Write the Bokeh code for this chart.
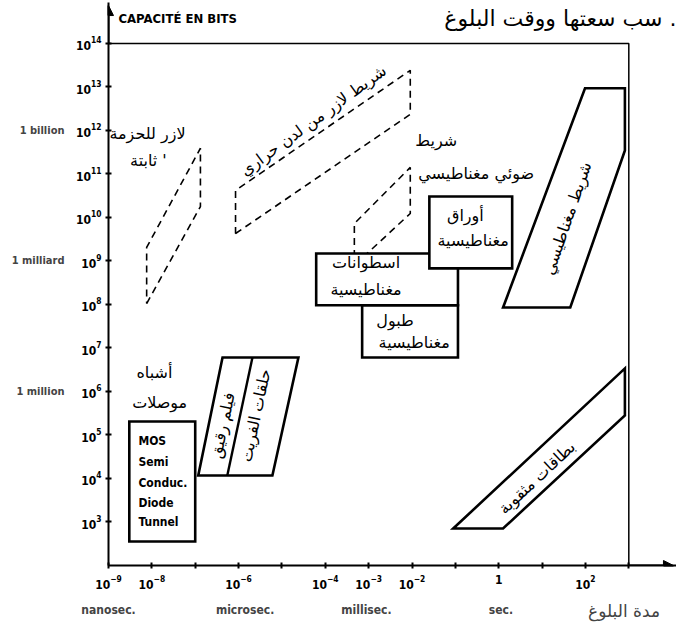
from bokeh.plotting import figure
from bokeh.models import (Range1d, FixedTicker, LogAxis, Arrow, NormalHead, ColumnDataSource,
                          LogTickFormatter)
from bokeh.core.properties import value
from bokeh.embed import file_html
from bokeh.resources import INLINE

LATIN = "'DejaVu Sans Condensed', Roboto, 'Liberation Sans', sans-serif"
ARABIC = "DejaVu Sans"

# ---------------- data (log10 of access time in s, log10 of capacity in bits) ----------
# solid-outlined technologies
semi_t = [-8.52, -7.00, -7.00, -8.52]
semi_c = [2.55, 2.55, 5.31, 5.31]
film_core_t = [-6.93, -5.22, -4.62, -6.37]
film_core_c = [4.07, 4.07, 6.78, 6.78]
film_core_div_t = [-6.26, -5.68]
film_core_div_c = [4.07, 6.78]
drums_t = [-3.15, -0.94, -0.94, -3.15]
drums_c = [6.78, 6.78, 7.98, 7.98]
discs_t = [-4.21, -0.94, -0.94, -4.21]
discs_c = [7.98, 7.98, 9.17, 9.17]
sheets_t = [-1.60, 0.31, 0.31, -1.60]
sheets_c = [8.83, 8.83, 10.48, 10.48]
tape_t = [0.10, 1.65, 2.91, 2.91, 1.99]
tape_c = [7.93, 7.93, 11.54, 12.97, 12.97]
cards_t = [-1.05, 0.10, 2.91, 2.91]
cards_c = [2.85, 2.85, 5.45, 6.53]

# dashed (future) technologies
holo_t = [-8.12, -6.88, -6.88, -8.12]
holo_c = [8.02, 10.25, 11.59, 9.31]
thermo_t = [-6.07, -2.04, -2.04, -6.07]
thermo_c = [9.63, 12.37, 13.38, 10.62]
mo_t = [-3.33, -2.04, -2.04, -3.33]
mo_c = [8.90, 10.09, 11.15, 9.86]

# axes
x_min_exp, x_max_exp, x_frame_exp = -9, 4.10, 3
y_min_exp, y_max_exp, y_frame_exp = 2, 14.94, 14
x_arrow_exp, y_arrow_exp = 4.03, 14.87
x_tick_exps = list(range(-9, 4))
x_unlabeled_exps = [-7, -5, -1, 1, 3]          # decades drawn as dots only
y_tick_exps = list(range(3, 15))
unit_exps = [-9, -5.85, -3.05, 0.05]
unit_labels = ["nanosec.", "microsec.", "millisec.", "sec."]
x_title_exp = [2.89]
x_title = ["مدة البلوغ"]
word_exps = [6, 9, 12]
word_labels = ["1 million", "1 milliard", "1 billion"]
y_title = "CAPACITÉ EN BITS"
y_title_pos = (-8.77, 14.57)
caption = "سب سعتها ووقت البلوغ ."
caption_pos = (4.10, 14.57)

# labels: (text, t_exp, c_exp, angle_deg)
arabic_labels = [
    ("لازر للحزمة", -8.10, 11.93, 0),
    ("ثابتة '", -8.08, 11.31, 0),
    ("شريط لازر من لدن حراري", -4.28, 12.23, 36),
    ("شريط", -1.44, 11.77, 0),
    ("ضوئي مغناطيسي", -0.52, 11.01, 0),
    ("أوراق", -0.77, 10.05, 0),
    ("مغناطيسية", -0.59, 9.47, 0),
    ("اسطوانات", -3.06, 8.97, 0),
    ("مغناطيسية", -3.06, 8.34, 0),
    ("طبول", -2.39, 7.63, 0),
    ("مغناطيسية", -1.95, 7.13, 0),
    ("شريط مغناطيسي", 1.58, 9.98, 71),
    ("أشباه", -7.94, 6.44, 0),
    ("موصلات", -7.82, 5.75, 0),
    ("فيلم رقيق", -6.37, 5.22, 78),
    ("حلقات الفريت", -5.61, 5.45, 78),
    ("بطاقات مثقوبة", 0.88, 4.02, 43),
]
mos_lines = ["MOS", "Semi", "Conduc.", "Diode", "Tunnel"]
mos_line_c = [4.87, 4.37, 3.89, 3.43, 2.99]
mos_line_t = -8.31


def e(vals):
    return [10.0 ** v for v in vals]


p = figure(width=676, height=630, x_axis_type="log", y_axis_type="log",
           x_range=Range1d(10.0 ** x_min_exp, 10.0 ** x_max_exp),
           y_range=Range1d(10.0 ** y_min_exp, 10.0 ** y_max_exp),
           output_backend="svg", toolbar_location=None,
           min_border_left=108, min_border_right=0, min_border_top=2, min_border_bottom=65)
p.outline_line_color = None
p.grid.visible = False
p.background_fill_color = "white"

# primary axes
xt = e(x_tick_exps)
p.xaxis.ticker = FixedTicker(ticks=xt, minor_ticks=[])
p.xaxis.formatter = LogTickFormatter(min_exponent=1)
p.xaxis.major_label_overrides = {t: "" for t in e(x_unlabeled_exps)}
p.yaxis.ticker = FixedTicker(ticks=e(y_tick_exps), minor_ticks=[])
p.yaxis.formatter = LogTickFormatter()
for ax in (p.xaxis[0], p.yaxis[0]):
    ax.axis_line_width = 2
    ax.axis_line_color = "black"
    ax.major_tick_line_width = 2
    ax.major_tick_in = 3
    ax.major_tick_out = 3
    ax.minor_tick_line_color = None
    ax.major_label_text_font = LATIN
    ax.major_label_text_font_style = "bold"
    ax.major_label_text_font_size = "12px"
    ax.major_label_text_color = "black"
p.xaxis.major_label_standoff = 6
p.yaxis.major_label_standoff = 4

# secondary axes (unit words)
ut = e(unit_exps)
ax_units = LogAxis(ticker=FixedTicker(ticks=ut, minor_ticks=[]),
                   major_label_overrides={t: lab for t, lab in zip(ut, unit_labels)},
                   axis_line_color=None, major_tick_line_color=None, minor_tick_line_color=None,
                   major_label_standoff=5, major_label_text_font=LATIN,
                   major_label_text_font_style="bold", major_label_text_font_size="12px")
p.add_layout(ax_units, "below")
tt = e(x_title_exp)
ax_title = LogAxis(ticker=FixedTicker(ticks=tt, minor_ticks=[]),
                   major_label_overrides={t: lab for t, lab in zip(tt, x_title)},
                   axis_line_color=None, major_tick_line_color=None, minor_tick_line_color=None,
                   major_label_standoff=-25, major_label_text_font=ARABIC,
                   major_label_text_font_size="17px")
p.add_layout(ax_title, "below")
wt = e(word_exps)
ax_words = LogAxis(ticker=FixedTicker(ticks=wt, minor_ticks=[]),
                   major_label_overrides={t: lab for t, lab in zip(wt, word_labels)},
                   axis_line_color=None, major_tick_line_color=None, minor_tick_line_color=None,
                   major_label_standoff=2, major_label_text_font=LATIN,
                   major_label_text_font_style="bold", major_label_text_font_size="11px")
p.add_layout(ax_words, "left")

# frame top and right
p.line(x=e([x_min_exp, x_frame_exp, x_frame_exp]), y=e([y_frame_exp, y_frame_exp, y_min_exp]),
       line_color="black", line_width=1.5)

# dashed technologies
p.patches(xs=[e(holo_t), e(thermo_t), e(mo_t)], ys=[e(holo_c), e(thermo_c), e(mo_c)],
          fill_color=None, line_color="black", line_width=1.6, line_dash="7 5")

# solid technologies
p.patches(xs=[e(semi_t), e(film_core_t), e(drums_t), e(discs_t), e(sheets_t), e(tape_t), e(cards_t)],
          ys=[e(semi_c), e(film_core_c), e(drums_c), e(discs_c), e(sheets_c), e(tape_c), e(cards_c)],
          fill_color="white", line_color="black", line_width=2.6, line_join="miter")
p.line(x=e(film_core_div_t), y=e(film_core_div_c), line_color="black", line_width=2.4)

# arrows on the axes
p.add_layout(Arrow(end=NormalHead(size=10, fill_color="black", line_color="black"),
                   x_start=10.0 ** x_min_exp, y_start=10.0 ** y_frame_exp,
                   x_end=10.0 ** x_min_exp, y_end=10.0 ** y_arrow_exp,
                   line_color="black", line_width=2))
p.add_layout(Arrow(end=NormalHead(size=10, fill_color="black", line_color="black"),
                   x_start=10.0 ** x_frame_exp, y_start=10.0 ** y_min_exp,
                   x_end=10.0 ** x_arrow_exp, y_end=10.0 ** y_min_exp,
                   line_color="black", line_width=2))

# Arabic labels
src = ColumnDataSource(dict(
    x=[10.0 ** a[1] for a in arabic_labels],
    y=[10.0 ** a[2] for a in arabic_labels],
    text=[a[0] for a in arabic_labels],
    angle=[a[3] for a in arabic_labels],
))
p.text(x="x", y="y", text="text", angle="angle", angle_units="deg", source=src,
       text_font=value(ARABIC), text_font_size="16px", text_align="center",
       text_baseline="middle", text_color="black")

# MOS box text
p.text(x=[10.0 ** mos_line_t] * len(mos_lines), y=e(mos_line_c), text=mos_lines,
       text_font=value(LATIN), text_font_style="bold", text_font_size="12px",
       text_align="left", text_baseline="middle", text_color="black")

# header texts
p.text(x=[10.0 ** y_title_pos[0]], y=[10.0 ** y_title_pos[1]], text=[y_title],
       text_font=value(LATIN), text_font_style="bold", text_font_size="13px",
       text_align="left", text_baseline="middle", text_color="black")
p.text(x=[10.0 ** caption_pos[0]], y=[10.0 ** caption_pos[1]], text=[caption],
       text_font=value(ARABIC), text_font_size="22px",
       text_align="right", text_baseline="middle", text_color="black")

open("out.html", "w").write(file_html(p, INLINE))
